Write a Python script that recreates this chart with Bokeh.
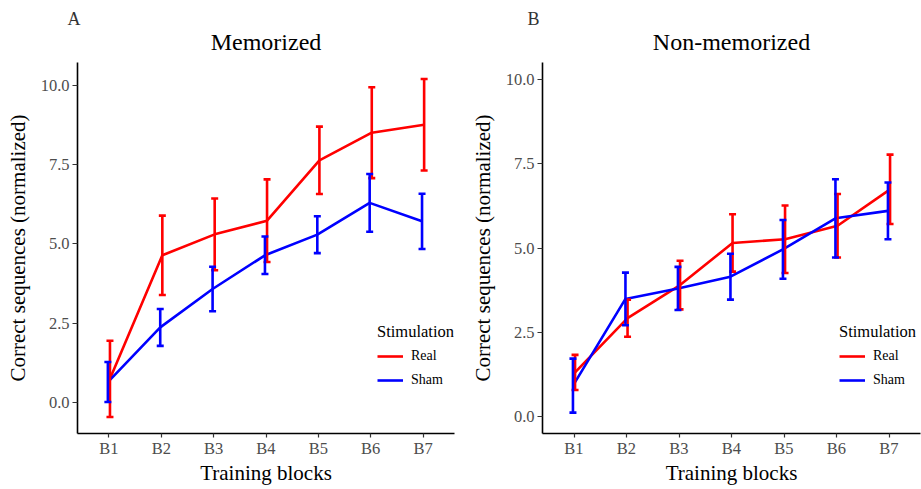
from bokeh.plotting import figure
from bokeh.models import (ColumnDataSource, FactorRange, Range1d, Whisker, TeeHead,
                          Legend, LegendItem, Title, FixedTicker, PrintfTickFormatter)
from bokeh.layouts import row
from bokeh.transform import dodge
from bokeh.embed import file_html
from bokeh.resources import INLINE

# ---- data -------------------------------------------------------------
blocks = ["B1", "B2", "B3", "B4", "B5", "B6", "B7"]

mem_real_mean = [0.75, 4.64, 5.30, 5.73, 7.63, 8.50, 8.75]
mem_real_err = [1.20, 1.25, 1.13, 1.30, 1.06, 1.43, 1.44]
mem_sham_mean = [0.65, 2.37, 3.58, 4.64, 5.29, 6.29, 5.71]
mem_sham_err = [0.63, 0.58, 0.70, 0.59, 0.58, 0.91, 0.87]

non_real_mean = [1.31, 2.92, 3.90, 5.15, 5.26, 5.66, 6.74]
non_real_err = [0.52, 0.55, 0.72, 0.85, 1.00, 0.94, 1.03]
non_sham_mean = [0.92, 3.49, 3.80, 4.15, 4.96, 5.88, 6.10]
non_sham_err = [0.80, 0.78, 0.64, 0.68, 0.87, 1.16, 0.84]

y_ticks = [0, 2.5, 5, 7.5, 10]
series_labels = ["Real", "Sham"]
series_colors = ["#FF0000", "#0000FF"]

FONT = "Liberation Serif"
FRAME_H = 371
TOP = 62
BOTTOM = 56


def make_panel(title, letter, real_mean, real_err, sham_mean, sham_err,
               y_start, y_end, frame_w, min_left, min_right, letter_dx, legend_x):
    x_range = FactorRange(factors=blocks, range_padding=0.1, range_padding_units="absolute")
    p = figure(frame_width=frame_w, frame_height=FRAME_H, x_range=x_range,
               y_range=Range1d(y_start, y_end), title=None,
               output_backend="svg", toolbar_location=None,
               min_border_left=min_left, min_border_right=min_right,
               min_border_top=TOP, min_border_bottom=BOTTOM)
    p.outline_line_color = None
    p.xgrid.visible = False
    p.ygrid.visible = False
    p.background_fill_color = "white"

    # panel title (nearest the frame) and panel letter (outer)
    p.add_layout(Title(text=title, align="center", text_font=FONT, text_font_size="24px",
                       text_font_style="normal", text_color="black", standoff=16), "above")
    p.add_layout(Title(text=letter, align="left", offset=letter_dx, text_font=FONT,
                       text_font_size="18px", text_font_style="normal",
                       text_color="#333333", standoff=-20), "above")

    for ax in (p.xaxis[0], p.yaxis[0]):
        ax.axis_line_color = "black"
        ax.axis_line_width = 1.6
        ax.major_tick_line_color = "#333333"
        ax.major_tick_line_width = 1.2
        ax.major_tick_out = 5
        ax.major_tick_in = 0
        ax.minor_tick_line_color = None
        ax.major_label_text_font = FONT
        ax.major_label_text_font_size = "16.5px"
        ax.major_label_text_color = "#4D4D4D"
        ax.axis_label_text_font = FONT
        ax.axis_label_text_font_size = "21px"
        ax.axis_label_text_font_style = "normal"
        ax.axis_label_text_color = "black"
        ax.major_label_standoff = 3

    p.xaxis.axis_label = "Training blocks"
    p.xaxis.major_tick_out = 4
    p.xaxis.axis_label_standoff = 0
    p.xaxis.major_label_standoff = 1
    p.yaxis.axis_label = "Correct sequences (normalized)"
    p.yaxis.axis_label_standoff = 8
    p.yaxis.ticker = FixedTicker(ticks=y_ticks)
    p.yaxis.formatter = PrintfTickFormatter(format="%.1f")

    specs = [(real_mean, real_err, series_colors[0], series_labels[0], 0.02),
             (sham_mean, sham_err, series_colors[1], series_labels[1], -0.02)]
    renderers = []
    for mean, err, color, lab, dx in specs:
        src = ColumnDataSource(dict(
            block=blocks, mean=mean,
            upper=[m + e for m, e in zip(mean, err)],
            lower=[m - e for m, e in zip(mean, err)]))
        xs = dodge("block", dx, range=x_range)
        r = p.line(x=xs, y="mean", source=src, line_color=color, line_width=2.6)
        renderers.append((lab, r))
        w = Whisker(source=src, base=xs, upper="upper", lower="lower", dimension="height",
                    line_color=color, line_width=2.6, level="overlay",
                    upper_head=TeeHead(size=7, line_color=color, line_width=2.6),
                    lower_head=TeeHead(size=7, line_color=color, line_width=2.6))
        p.add_layout(w)

    items = [LegendItem(label=lab, renderers=[r]) for lab, r in renderers]
    legend = Legend(items=items, location=(legend_x, 43), title="Stimulation",
                    title_text_font=FONT, title_text_font_size="16.5px",
                    title_text_font_style="normal", title_text_color="black",
                    title_standoff=4,
                    label_text_font=FONT, label_text_font_size="14px", label_text_color="black",
                    glyph_width=26, glyph_height=20, label_height=20, label_standoff=8,
                    label_width=40, spacing=4, padding=0, margin=0,
                    border_line_color=None, background_fill_alpha=0)
    p.add_layout(legend)
    return p


pA = make_panel("Memorized", "A", mem_real_mean, mem_real_err, mem_sham_mean, mem_sham_err,
                -0.97, 10.71, 377, 77, 11, -10, 300)
pB = make_panel("Non-memorized", "B", non_real_mean, non_real_err, non_sham_mean, non_sham_err,
                -0.5, 10.5, 378, 77, 1, -15, 297)

layout = row(pA, pB)
open("out.html", "w").write(file_html(layout, INLINE))
